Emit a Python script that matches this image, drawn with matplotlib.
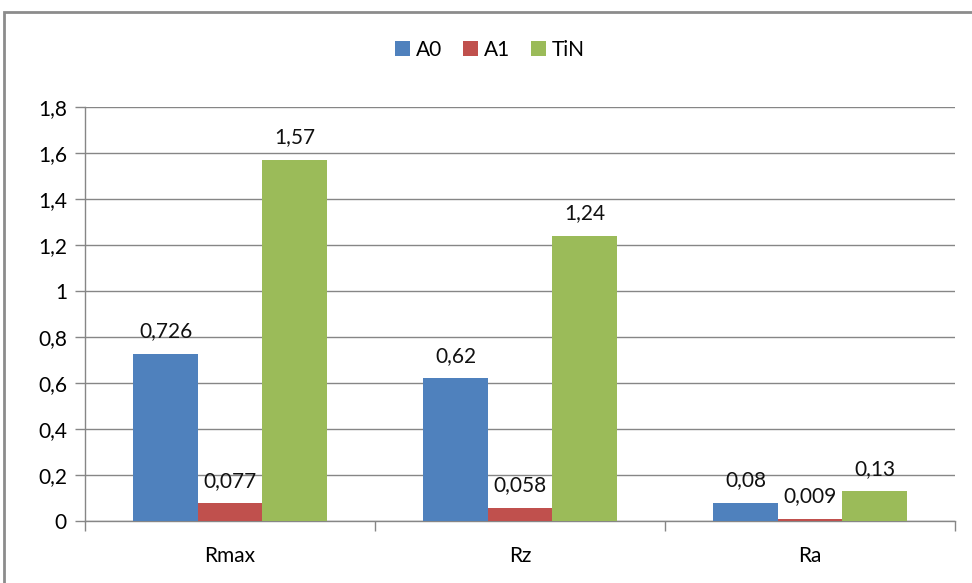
import numpy as np
import matplotlib.pyplot as plt
from matplotlib.patches import Rectangle
from matplotlib.ticker import FixedLocator

categories = ["Rmax", "Rz", "Ra"]
series = ["A0", "A1", "TiN"]
a0 = [0.726, 0.62, 0.08]
a1 = [0.077, 0.058, 0.009]
tin = [1.57, 1.24, 0.13]
labels_a0 = ["0,726", "0,62", "0,08"]
labels_a1 = ["0,077", "0,058", "0,009"]
labels_tin = ["1,57", "1,24", "0,13"]
yticks = [0, 0.2, 0.4, 0.6, 0.8, 1.0, 1.2, 1.4, 1.6, 1.8]
ytick_labels = ["0", "0,2", "0,4", "0,6", "0,8", "1", "1,2", "1,4", "1,6", "1,8"]

colors = ["#4F81BD", "#C0504D", "#9BBB59"]
grid_col = "#868686"

plt.rcParams['font.family'] = ['Lato', 'DejaVu Sans']
fs = 15

fig = plt.figure(figsize=(9.72, 5.83), dpi=100)
ax = fig.add_axes([85 / 972, 1 - 521 / 583, 870 / 972, 414 / 583])

# outer chart border
fig.patches.append(Rectangle((4 / 972, -0.05), 1.2, 1 - 12 / 583 + 0.05,
                             transform=fig.transFigure, fill=False,
                             edgecolor="#8c8c8c", linewidth=2))

x = np.arange(len(categories))
w = 1 / 4.5
data = [a0, a1, tin]
labs = [labels_a0, labels_a1, labels_tin]
for i, (vals, lb) in enumerate(zip(data, labs)):
    pos = x + (i - 1) * w
    bars = ax.bar(pos, vals, width=w, color=colors[i], label=series[i], zorder=3)
    for b, t in zip(bars, lb):
        ax.annotate(t, (b.get_x() + b.get_width() / 2, b.get_height()),
                    xytext=(0, 9), textcoords="offset points",
                    ha="center", va="bottom", fontsize=fs, color="#111111",
                    zorder=4)

ax.set_xlim(-0.5, len(categories) - 0.5)
ax.set_ylim(0, 1.8)
ax.set_yticks(yticks)
ax.set_yticklabels(ytick_labels)
ax.yaxis.grid(True, color=grid_col, linewidth=1, zorder=0)

ax.set_xticks(x)
ax.set_xticklabels(categories)
ax.xaxis.set_minor_locator(FixedLocator(np.arange(len(categories) + 1) - 0.5))
ax.tick_params(axis="x", which="major", length=0, pad=18, labelsize=fs)
ax.tick_params(axis="x", which="minor", length=7, color=grid_col, width=1)
ax.tick_params(axis="y", length=7, color=grid_col, width=1, labelsize=fs, pad=6)

for s in ["top", "right"]:
    ax.spines[s].set_visible(False)
for s in ["left", "bottom"]:
    ax.spines[s].set_color(grid_col)
    ax.spines[s].set_linewidth(1)

fig.legend(loc="center", bbox_to_anchor=(490 / 972, 1 - 50 / 583), ncol=3,
           frameon=False, fontsize=fs, handlelength=0.7, handleheight=0.7,
           handletextpad=0.3, columnspacing=1.0)

fig.savefig("out.png", dpi=100)
